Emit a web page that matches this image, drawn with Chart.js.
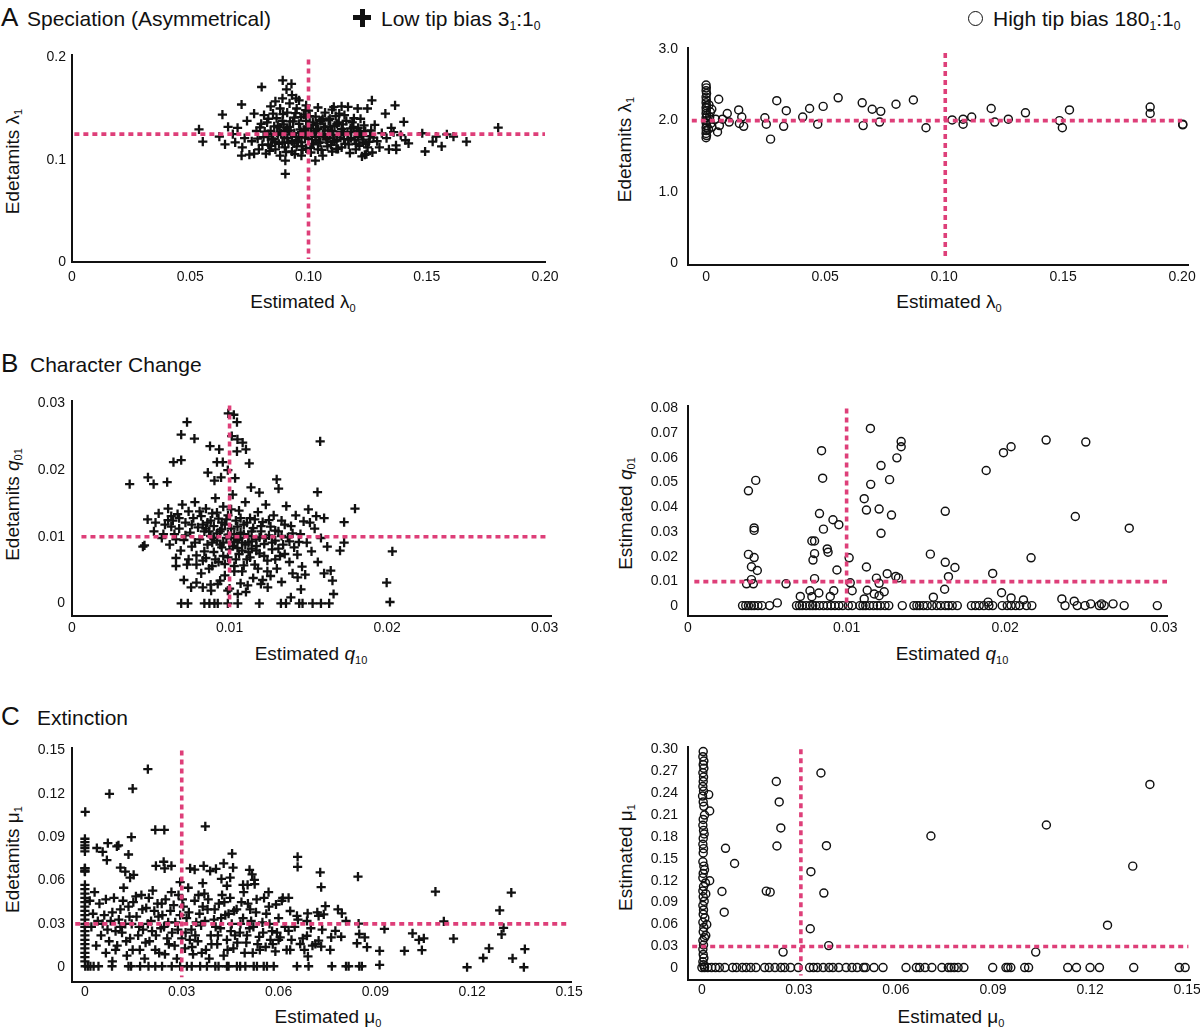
<!DOCTYPE html>
<html>
<head>
<meta charset="utf-8">
<script src="https://cdn.jsdelivr.net/npm/chart.js@4.4.0/dist/chart.umd.min.js"></script>
<style>
body{margin:0;width:1200px;height:1033px;overflow:hidden;background:#fff;position:relative;
  font-family:"Liberation Sans",Arial,sans-serif;color:#111}
canvas{position:absolute}
.t{position:absolute;white-space:nowrap;line-height:1}
.big{font-size:26px}
.hd{font-size:21px}
.ax{font-size:19px;text-align:center;width:240px}
.yt{transform:rotate(-90deg)}
sub{font-size:58%;vertical-align:-0.32em;line-height:0}
.circ{position:absolute;width:13px;height:13px;border:1.6px solid #111;border-radius:50%}
.bar{position:absolute;background:#111}
</style>
</head>
<body>
<div class="t big" style="left:1px;top:4px">A</div>
<div class="t hd" style="left:27px;top:8px">Speciation (Asymmetrical)</div>
<div class="bar" style="left:353px;top:15px;width:18px;height:5px"></div>
<div class="bar" style="left:359.5px;top:8.5px;width:5px;height:18px"></div>
<div class="t hd" style="left:381px;top:8px">Low tip bias 3<sub>1</sub>:1<sub>0</sub></div>
<div class="circ" style="left:968px;top:11px"></div>
<div class="t hd" style="left:993px;top:8px">High tip bias 180<sub>1</sub>:1<sub>0</sub></div>
<div class="t big" style="left:1px;top:350px">B</div>
<div class="t hd" style="left:30px;top:354px">Character Change</div>
<div class="t big" style="left:1px;top:703px">C</div>
<div class="t hd" style="left:37px;top:707px">Extinction</div>

<div class="t ax" style="left:183px;top:292px">Estimated λ<sub>0</sub></div>
<div class="t ax" style="left:829px;top:292px">Estimated λ<sub>0</sub></div>
<div class="t ax" style="left:191px;top:644px">Estimated <i>q</i><sub>10</sub></div>
<div class="t ax" style="left:832px;top:644px">Estimated <i>q</i><sub>10</sub></div>
<div class="t ax" style="left:208px;top:1007px">Estimated μ<sub>0</sub></div>
<div class="t ax" style="left:831px;top:1007px">Estimated μ<sub>0</sub></div>

<div class="t ax yt" style="left:-108px;top:152px">Edetamits λ<sub>1</sub></div>
<div class="t ax yt" style="left:504px;top:140px">Edetamits λ<sub>1</sub></div>
<div class="t ax yt" style="left:-108px;top:495px">Edetamits <i>q</i><sub>01</sub></div>
<div class="t ax yt" style="left:505px;top:504px">Estimated <i>q</i><sub>01</sub></div>
<div class="t ax yt" style="left:-108px;top:850px">Edetamits μ<sub>1</sub></div>
<div class="t ax yt" style="left:505px;top:848px">Estimated μ<sub>1</sub></div>

<script>
// ---- data ----
const speciationLow = [
  [0.0537,0.1297],[0.0553,0.1177],[0.0636,0.144],[0.0623,0.1226],[0.0647,0.115],[0.0717,0.1539],
  [0.0802,0.171],[0.0891,0.1774],[0.0928,0.174],[0.0907,0.1687],[0.0902,0.0861],[0.0902,0.099],
  [0.0717,0.104],[0.077,0.106],[0.0948,0.160],[0.1268,0.158],[0.1366,0.153],[0.1325,0.145],
  [0.1208,0.150],[0.1249,0.150],[0.1403,0.137],[0.1802,0.1313],[0.1668,0.1177],[0.1613,0.1226],
  [0.1563,0.1129],[0.1493,0.108],[0.1525,0.1177],[0.1481,0.1258],[0.1585,0.1248],[0.154,0.1226],
  [0.1423,0.116],[0.1371,0.1097],[0.1226,0.1032],[0.1238,0.1048],[0.1029,0.099],[0.1119,0.119],
  [0.1107,0.1516],[0.1167,0.1516],
  [0.076,0.118],[0.078,0.128],[0.079,0.110],[0.080,0.135],[0.081,0.122],[0.082,0.106],[0.083,0.140],
  [0.083,0.115],[0.084,0.128],[0.085,0.120],[0.085,0.145],[0.086,0.110],[0.087,0.133],[0.087,0.124],
  [0.088,0.150],[0.088,0.104],[0.089,0.117],[0.089,0.138],[0.090,0.128],[0.090,0.112],[0.091,0.146],
  [0.091,0.121],[0.092,0.155],[0.092,0.132],[0.093,0.108],[0.093,0.118],[0.094,0.141],[0.094,0.126],
  [0.095,0.113],[0.095,0.150],[0.096,0.122],[0.096,0.135],[0.097,0.104],[0.097,0.117],[0.098,0.144],
  [0.098,0.129],[0.099,0.111],[0.099,0.138],[0.100,0.120],[0.100,0.148],[0.101,0.126],[0.101,0.107],
  [0.102,0.134],[0.102,0.115],[0.103,0.142],[0.103,0.122],[0.104,0.110],[0.104,0.130],[0.105,0.138],
  [0.105,0.117],[0.106,0.125],[0.106,0.104],[0.107,0.146],[0.107,0.132],[0.108,0.113],[0.108,0.121],
  [0.109,0.140],[0.110,0.128],[0.110,0.108],[0.111,0.118],[0.112,0.135],[0.112,0.124],[0.113,0.145],
  [0.114,0.112],[0.114,0.130],[0.115,0.120],[0.116,0.138],[0.117,0.115],[0.118,0.127],[0.119,0.132],
  [0.120,0.110],[0.121,0.122],[0.122,0.140],[0.123,0.117],[0.124,0.128],[0.125,0.112],[0.126,0.123],
  [0.128,0.134],[0.129,0.118],[0.131,0.126],[0.133,0.121],[0.135,0.131],[0.137,0.114],[0.139,0.124],
  [0.141,0.119],[0.068,0.125],[0.070,0.131],[0.072,0.112],[0.073,0.121],[0.074,0.138],[0.075,0.105],
  [0.077,0.145],[0.066,0.132],[0.069,0.117],[0.084,0.152],[0.086,0.157],[0.089,0.160],[0.093,0.163],
  [0.096,0.158],[0.099,0.153],[0.104,0.151],[0.110,0.149],[0.114,0.152],[0.083,0.125],[0.091,0.130],
  [0.094,0.116],[0.097,0.127],[0.100,0.131],[0.103,0.119],[0.106,0.140],[0.109,0.125],[0.111,0.133],
  [0.115,0.127],[0.118,0.121],[0.121,0.131],[0.127,0.107],[0.130,0.112],[0.134,0.110],[0.136,0.127],
  [0.0785,0.1205],[0.0795,0.1315],[0.0805,0.1145],[0.0815,0.1275],[0.0825,0.1365],[0.0835,0.1085],
  [0.0845,0.1195],[0.0855,0.1325],[0.0865,0.1405],[0.0875,0.1155],[0.0885,0.1255],[0.0895,0.1345],
  [0.0905,0.1075],[0.0915,0.1165],[0.0925,0.1245],[0.0935,0.1375],[0.0945,0.1455],[0.0955,0.1185],
  [0.0965,0.1295],[0.0975,0.1095],[0.0985,0.1215],[0.0995,0.1325],[0.1005,0.1425],[0.1015,0.1155],
  [0.1025,0.1265],[0.1035,0.1355],[0.1045,0.1225],[0.1055,0.1095],[0.1065,0.1315],[0.1075,0.1195],
  [0.1085,0.1385],[0.1095,0.1145],[0.1105,0.1235],[0.1115,0.1425],[0.1125,0.1105],[0.1135,0.1215],
  [0.1145,0.1345],[0.1155,0.1155],[0.1165,0.1255],[0.1175,0.1065],[0.1185,0.1365],[0.1195,0.1195],
  [0.1205,0.1285],[0.1215,0.1135],[0.1225,0.1235],[0.1235,0.1335],[0.1245,0.1055],[0.1255,0.1175],
  [0.1265,0.1285],[0.1275,0.1215],[0.0812,0.1435],[0.0842,0.1135],[0.0868,0.1265],[0.0892,0.1445],
  [0.0918,0.1285],[0.0942,0.1055],[0.0968,0.1415],[0.0992,0.1245],[0.1018,0.1365],[0.1042,0.1165],
  [0.1068,0.1245],[0.1092,0.1325],[0.1118,0.1105],[0.1142,0.1275],[0.1168,0.1195],[0.1192,0.1405],
  [0.1218,0.1265],[0.1242,0.1155],[0.0828,0.1225],[0.0858,0.1175],[0.0878,0.1315],[0.0898,0.1215],
  [0.0922,0.1375],[0.0948,0.1225],[0.0972,0.1135],[0.0988,0.1485],[0.1008,0.1115],[0.1032,0.1285],
  [0.1058,0.1385],[0.1082,0.1285],[0.1102,0.1175],[0.1128,0.1365],[0.1152,0.1435],[0.1178,0.1305],
  [0.1202,0.1155],[0.1232,0.1195]
];
const speciationHigh = [
  [0.0000,2.50],[0.0001,2.46],[0.0000,2.42],[0.0002,2.38],[0.0000,2.33],[0.0001,2.29],[0.0000,2.25],
  [0.0002,2.21],[0.0000,2.18],[0.0001,2.14],[0.0000,2.10],[0.0003,2.07],[0.0000,2.04],[0.0001,2.00],
  [0.0000,1.97],[0.0002,1.93],[0.0000,1.90],[0.0001,1.86],[0.0000,1.82],[0.0002,1.79],[0.0000,1.76],
  [0.0012,2.22],[0.0015,2.05],[0.0020,1.96],[0.0010,1.88],[0.0018,2.12],
  [0.0024,2.16],[0.0040,2.02],[0.0024,1.91],[0.0048,1.84],[0.0053,2.30],[0.0069,2.02],[0.0056,1.93],
  [0.0089,2.10],[0.0097,1.98],[0.0137,2.15],[0.0140,1.96],[0.0150,2.05],[0.0158,1.92],[0.0247,2.04],
  [0.0253,1.95],[0.0271,1.74],[0.0297,2.28],[0.0326,1.92],[0.0337,2.14],[0.0406,2.05],[0.0435,2.17],
  [0.0469,1.95],[0.0492,2.20],[0.0555,2.32],[0.0656,2.25],[0.0660,1.93],[0.0698,2.16],[0.0729,1.98],
  [0.0734,2.13],[0.0798,2.23],[0.0871,2.29],[0.0924,1.90],[0.1034,2.01],[0.1080,2.02],[0.1080,1.95],
  [0.1116,2.05],[0.1198,2.17],[0.1213,1.98],[0.1270,2.02],[0.1342,2.11],[0.1485,2.00],[0.1497,1.90],
  [0.1527,2.15],[0.1866,2.19],[0.1866,2.10],[0.2003,1.95],[0.2003,1.94]
];
const characterLow = [
  [0.00992,0.0285],[0.01027,0.0283],[0.01047,0.0272],[0.0073,0.0272],[0.00693,0.0253],[0.00777,0.0247],
  [0.00876,0.0236],[0.00934,0.0231],[0.01014,0.0251],[0.0105,0.0246],[0.01083,0.0241],[0.01047,0.0228],
  [0.01104,0.0231],[0.01125,0.021],[0.00644,0.0212],[0.00693,0.0215],[0.0092,0.0212],[0.00957,0.0212],
  [0.01575,0.0243],[0.00366,0.0179],[0.00482,0.0189],[0.00518,0.0179],[0.00604,0.0182],[0.00862,0.0196],
  [0.00904,0.0184],[0.00946,0.0189],[0.00989,0.0200],[0.01035,0.0188],[0.01299,0.0186],[0.01311,0.0172],
  [0.01558,0.0167],[0.01796,0.0142],[0.01136,0.0174],[0.01189,0.0166],[0.01727,0.0122],[0.01701,0.0079],
  [0.01727,0.0091],[0.02033,0.0078],[0.01997,0.0031],[0.02018,0.0002],[0.0166,0.0014],[0.01653,0.0034],
  [0.0160,0.0045],[0.01642,0.0049],[0.01453,0.0021],[0.01389,0.0009],[0.01432,0.0039],[0.01052,0.0014],
  [0.01104,0.0017],[0.01115,0.0027],[0.00883,0.0019],[0.00925,0.0029],[0.00756,0.0024],[0.00989,0.0019],
  [0.01199,0.0029],[0.01242,0.0024],
  [0.00693,0],[0.00735,0],[0.0084,0],[0.00872,0],[0.00904,0],[0.00925,0],[0.00989,0],[0.01052,0],
  [0.01189,0],[0.01326,0],[0.01358,0],[0.01442,0],[0.01463,0],[0.01527,0],[0.0158,0],[0.01632,0],
  [0.0048,0.0126],[0.0052,0.0108],[0.0055,0.0135],[0.0057,0.0098],[0.0059,0.0118],[0.0061,0.0142],
  [0.0062,0.0088],[0.0064,0.0124],[0.0065,0.0104],[0.0066,0.0068],[0.0067,0.0134],[0.0068,0.0112],
  [0.0069,0.0079],[0.0070,0.0148],[0.0071,0.0095],[0.0072,0.0121],[0.0073,0.0058],[0.0074,0.0138],
  [0.0075,0.0106],[0.0076,0.0085],[0.0077,0.0128],[0.0078,0.0152],[0.0079,0.0072],[0.0080,0.0114],
  [0.0081,0.0096],[0.0082,0.0045],[0.0082,0.0131],[0.0083,0.0064],[0.0084,0.0108],[0.0085,0.0142],
  [0.0086,0.0088],[0.0086,0.0121],[0.0087,0.0052],[0.0088,0.0101],[0.0089,0.0135],[0.0090,0.0077],
  [0.0090,0.0116],[0.0091,0.0158],[0.0092,0.0094],[0.0093,0.0062],[0.0093,0.0127],[0.0094,0.0108],
  [0.0095,0.0084],[0.0096,0.0145],[0.0097,0.0118],[0.0097,0.0042],[0.0098,0.0098],[0.0099,0.0069],
  [0.0099,0.0132],[0.0101,0.0112],[0.0102,0.0086],[0.0102,0.0163],[0.0103,0.0056],[0.0104,0.0124],
  [0.0105,0.0095],[0.0106,0.0074],[0.0106,0.0139],[0.0107,0.0106],[0.0108,0.0048],[0.0109,0.0118],
  [0.0110,0.0088],[0.0110,0.0152],[0.0111,0.0066],[0.0112,0.0101],[0.0113,0.0128],[0.0114,0.0082],
  [0.0115,0.0113],[0.0116,0.0058],[0.0117,0.0096],[0.0118,0.0137],[0.0119,0.0075],[0.0120,0.0108],
  [0.0121,0.0122],[0.0122,0.0089],[0.0123,0.0148],[0.0124,0.0064],[0.0125,0.0102],[0.0126,0.0115],
  [0.0127,0.0081],[0.0128,0.0132],[0.0129,0.0094],[0.0130,0.0052],[0.0131,0.0108],[0.0132,0.0071],
  [0.0133,0.0124],[0.0134,0.0088],[0.0136,0.0146],[0.0137,0.0099],[0.0138,0.0062],[0.0139,0.0116],
  [0.0141,0.0084],[0.0142,0.0132],[0.0143,0.0073],[0.0145,0.0104],[0.0146,0.0055],[0.0147,0.0123],
  [0.0149,0.0091],[0.0150,0.0141],[0.0152,0.0078],[0.0154,0.0112],[0.0156,0.0062],[0.0158,0.0098],
  [0.0160,0.0128],[0.0162,0.0085],
  [0.0045,0.0085],[0.0046,0.0087],[0.0053,0.0121],[0.0063,0.0131],[0.0066,0.0056],[0.0071,0.0035],
  [0.0079,0.0031],[0.0083,0.0024],[0.0088,0.0028],[0.0094,0.0034],[0.0100,0.0022],[0.0107,0.0030],
  [0.0115,0.0038],[0.0121,0.0035],[0.0126,0.0041],[0.0133,0.0032],[0.0140,0.0045],[0.0148,0.0043],
  [0.0085,0.0112],[0.0092,0.0105],[0.0096,0.0091],[0.0101,0.0098],[0.0105,0.0083],[0.0108,0.0091],
  [0.0112,0.0077],[0.0089,0.0091],[0.0095,0.0121],[0.0103,0.0104],[0.0114,0.0093],[0.0117,0.0086],
  [0.0063,0.0115],[0.0068,0.0128],[0.0072,0.0102],[0.0076,0.0118],[0.0078,0.0091],[0.0081,0.0138],
  [0.0083,0.0118],[0.0084,0.0078],[0.0087,0.0108],[0.0088,0.0124],[0.0090,0.0098],[0.0091,0.0066],
  [0.0092,0.0136],[0.0094,0.0088],[0.0095,0.0111],[0.0096,0.0071],[0.0098,0.0126],[0.0099,0.0103],
  [0.0100,0.0081],[0.0101,0.0141],[0.0103,0.0092],[0.0104,0.0066],[0.0105,0.0115],[0.0106,0.0098],
  [0.0107,0.0128],[0.0108,0.0079],[0.0109,0.0104],[0.0111,0.0121],[0.0112,0.0091],[0.0113,0.0069],
  [0.0114,0.0108],[0.0116,0.0126],[0.0117,0.0079],[0.0119,0.0099],[0.0120,0.0116],[0.0122,0.0071],
  [0.0123,0.0098],[0.0125,0.0125],[0.0127,0.0091],[0.0129,0.0109],[0.0131,0.0082],[0.0133,0.0101],
  [0.0135,0.0118],[0.0138,0.0093],[0.0140,0.0105],[0.0074,0.0066],[0.0079,0.0058],[0.0085,0.0068],
  [0.0089,0.0056],[0.0097,0.0059],[0.0103,0.0048],[0.0109,0.0057],[0.0118,0.0052],[0.0124,0.0048],
  [0.0129,0.0066],[0.0135,0.0074],[0.0144,0.0092],[0.0151,0.0121],[0.0155,0.0131],[0.0058,0.0104],
  [0.0061,0.0125],[0.0066,0.0096]
];
const characterHigh = [
  [0.00381,0.0467],[0.00427,0.0509],[0.00417,0.0317],[0.00417,0.0307],[0.00381,0.0210],[0.00417,0.0197],
  [0.0040,0.0160],[0.00437,0.0145],[0.0040,0.0108],[0.00369,0.0091],[0.00412,0.0091],[0.00618,0.0091],
  [0.00563,0.0014],[0.00708,0.0040],[0.00769,0.0063],[0.00781,0.0039],[0.00825,0.0054],[0.00897,0.0040],
  [0.00919,0.0063],[0.00842,0.0629],[0.00849,0.0518],[0.00829,0.0375],[0.00854,0.0312],[0.00914,0.0350],
  [0.00951,0.0330],[0.00781,0.0264],[0.00798,0.0264],[0.00878,0.0232],[0.00883,0.0219],[0.00798,0.0213],
  [0.00788,0.0187],[0.00939,0.0147],[0.00798,0.0112],[0.01016,0.0196],[0.01023,0.0095],[0.01035,0.0063],
  [0.0115,0.0719],[0.01217,0.0569],[0.01152,0.0493],[0.01111,0.0435],[0.01125,0.0389],[0.01205,0.0393],
  [0.01217,0.0295],[0.01271,0.0512],[0.01283,0.0369],[0.01317,0.0600],[0.01344,0.0645],[0.01344,0.0666],
  [0.01125,0.0159],[0.01188,0.0114],[0.01256,0.0132],[0.01310,0.0121],[0.01327,0.0115],[0.01205,0.0093],
  [0.0113,0.0065],[0.01174,0.0050],[0.01205,0.0043],[0.01237,0.0059],[0.01111,0.0030],[0.01528,0.0211],
  [0.01622,0.0384],[0.01622,0.0178],[0.01683,0.0157],[0.01642,0.0120],[0.01618,0.0069],[0.01547,0.0037],
  [0.0188,0.0549],[0.01989,0.0621],[0.02037,0.0645],[0.02258,0.0672],[0.02508,0.0664],[0.02442,0.0363],
  [0.02782,0.0316],[0.02163,0.0196],[0.01921,0.0133],[0.01977,0.0055],[0.02037,0.0034],[0.02115,0.0026],
  [0.02357,0.0030],[0.02435,0.0021],[0.01892,0.0017],[0.02680,0.0010],[0.02607,0.0010],[0.02539,0.0010],
  [0.00344,0.0003],[0.00364,0.0003],[0.00381,0.0003],[0.0040,0.0003],[0.00417,0.0003],[0.00441,0.0003],
  [0.00466,0.0003],[0.00514,0.0003],[0.00684,0.0003],[0.00703,0.0003],[0.0072,0.0003],[0.00745,0.0003],
  [0.00769,0.0003],[0.00786,0.0003],[0.00805,0.0003],[0.00829,0.0003],[0.00854,0.0003],[0.00878,0.0003],
  [0.00902,0.0003],[0.00926,0.0003],[0.00951,0.0003],[0.00975,0.0003],[0.01011,0.0003],[0.01035,0.0003],
  [0.01084,0.0003],[0.01103,0.0003],[0.0112,0.0003],[0.01145,0.0003],[0.01169,0.0003],[0.01193,0.0003],
  [0.01213,0.0003],[0.01242,0.0003],[0.01266,0.0003],[0.01351,0.0003],[0.01424,0.0003],[0.01443,0.0003],
  [0.0146,0.0003],[0.01484,0.0003],[0.01508,0.0003],[0.01538,0.0003],[0.01569,0.0003],[0.01593,0.0003],
  [0.01622,0.0003],[0.01642,0.0003],[0.01666,0.0003],[0.01698,0.0003],[0.01787,0.0003],[0.01812,0.0003],
  [0.01836,0.0003],[0.01865,0.0003],[0.01897,0.0003],[0.01921,0.0003],[0.01981,0.0003],[0.02013,0.0003],
  [0.02037,0.0003],[0.02066,0.0003],[0.02091,0.0003],[0.02134,0.0003],[0.02168,0.0003],[0.02377,0.0003],
  [0.02454,0.0003],[0.02503,0.0003],[0.02593,0.0003],[0.02624,0.0003],[0.0275,0.0003],[0.02959,0.0003]
];
const extinctionLow = [
  [0.0195,0.137],[0.0076,0.120],[0.0148,0.1236],[0.0001,0.1075],[0.0218,0.095],[0.0246,0.095],[0.0373,0.0975],
  [0.0000,0.0889],[0.0000,0.0866],[0.0000,0.0843],[0.0000,0.0825],[0.0000,0.0802],[0.0000,0.0684],[0.0000,0.0661],
  [0.0071,0.0859],[0.0099,0.0836],[0.0104,0.0843],[0.0037,0.0825],[0.0055,0.0798],[0.0068,0.0741],[0.0144,0.090],
  [0.0135,0.078],[0.0110,0.0689],[0.0125,0.0661],[0.0151,0.0639],[0.0140,0.062],[0.0220,0.0702],[0.0244,0.073],
  [0.0268,0.0702],[0.0247,0.0684],[0.0326,0.0684],[0.0340,0.0675],[0.0368,0.0702],[0.0388,0.0666],[0.0406,0.068],
  [0.0430,0.0718],[0.0456,0.0786],[0.0459,0.0689],[0.0423,0.0611],[0.0450,0.062],[0.0440,0.0564],[0.0365,0.0582],
  [0.0295,0.0589],[0.0510,0.0673],[0.0518,0.0643],[0.0525,0.0605],[0.0490,0.057],[0.0504,0.057],[0.0526,0.0575],
  [0.0659,0.0764],[0.0659,0.0695],[0.0729,0.0657],[0.0732,0.0555],[0.0846,0.0627],[0.0569,0.052],[0.0592,0.0434],
  [0.0613,0.048],[0.0631,0.048],[0.0636,0.0389],[0.0657,0.0355],[0.0690,0.0373],[0.0688,0.032],[0.0724,0.0355],
  [0.0745,0.0423],[0.0740,0.0366],[0.0784,0.040],[0.0796,0.0373],[0.0809,0.032],[0.0848,0.0302],[0.0850,0.023],
  [0.0867,0.0207],[0.0843,0.0166],[0.0874,0.0139],[0.0776,0.0252],[0.0763,0.0207],[0.0794,0.0211],[0.0724,0.0184],
  [0.0732,0.0143],[0.0714,0.0161],[0.0688,0.0218],[0.0691,0.0075],[0.0667,0.0161],[0.0636,0.012],[0.0600,0.0189],
  [0.0631,0.0252],[0.0605,0.0207],
  [0.0928,0.0266],[0.0913,0.0114],[0.0913,0.0016],[0.0990,0.0114],[0.1015,0.0234],[0.1035,0.0189],[0.1050,0.020],
  [0.1044,0.0118],[0.1086,0.0523],[0.1112,0.0318],[0.1142,0.0198],[0.1184,0.0],[0.1234,0.0064],[0.1252,0.013],
  [0.1285,0.0393],[0.1297,0.0273],[0.1291,0.0227],[0.1321,0.0516],[0.1325,0.0061],[0.1363,0.0125],[0.1360,0.0],
  [0.0001,0.0007],[0.0009,0.0007],[0.0017,0.0007],[0.0027,0.0007],[0.0042,0.0007],[0.0084,0.0007],[0.0135,0.0007],
  [0.0143,0.0007],[0.0171,0.0007],[0.0197,0.0007],[0.0218,0.0007],[0.0239,0.0007],[0.0269,0.0007],[0.0295,0.0007],
  [0.0316,0.0007],[0.0331,0.0007],[0.0357,0.0007],[0.0378,0.0007],[0.0404,0.0007],[0.0414,0.0007],[0.0440,0.0007],
  [0.0445,0.0007],[0.0471,0.0007],[0.0481,0.0007],[0.0497,0.0007],[0.0523,0.0007],[0.0533,0.0007],[0.0554,0.0007],
  [0.0564,0.0007],[0.0585,0.0007],[0.0657,0.0007],[0.0693,0.0007],[0.0765,0.0007],[0.0809,0.0007],[0.0817,0.0007],
  [0.0850,0.0007],[0.0858,0.0007],
  [0.0000,0.057],[0.0000,0.054],[0.0000,0.051],[0.0000,0.048],[0.0000,0.045],[0.0000,0.042],[0.0000,0.039],
  [0.0000,0.036],[0.0000,0.033],[0.0000,0.030],[0.0000,0.028],[0.0000,0.025],[0.0000,0.022],[0.0000,0.019],
  [0.0000,0.016],[0.0000,0.013],[0.0000,0.010],[0.0000,0.007],[0.0000,0.004],[0.0000,0.0665],[0.0000,0.0685],
  [0.0030,0.052],[0.0045,0.044],[0.0060,0.036],[0.0020,0.028],[0.0050,0.022],[0.0035,0.015],[0.0065,0.010],
  [0.0080,0.032],[0.0090,0.048],[0.0095,0.025],[0.0100,0.015],[0.0110,0.040],[0.0120,0.055],[0.0125,0.030],
  [0.0130,0.008],[0.0140,0.020],[0.0150,0.045],[0.0160,0.035],[0.0170,0.012],[0.0175,0.050],[0.0180,0.026],
  [0.0190,0.041],[0.0200,0.018],[0.0205,0.032],[0.0210,0.053],[0.0220,0.022],[0.0225,0.044],[0.0230,0.010],
  [0.0240,0.036],[0.0245,0.028],[0.0250,0.047],[0.0260,0.016],[0.0265,0.039],[0.0270,0.024],[0.0280,0.031],
  [0.0285,0.006],[0.0290,0.050],[0.0300,0.020],[0.0305,0.042],[0.0310,0.013],[0.0315,0.034],[0.0320,0.055],
  [0.0330,0.026],[0.0335,0.009],[0.0340,0.046],[0.0350,0.018],[0.0355,0.037],[0.0360,0.029],[0.0370,0.051],
  [0.0375,0.012],[0.0380,0.040],[0.0390,0.022],[0.0400,0.033],[0.0410,0.016],[0.0415,0.044],[0.0420,0.027],
  [0.0430,0.008],[0.0435,0.036],[0.0440,0.019],[0.0450,0.048],[0.0455,0.030],[0.0460,0.013],[0.0470,0.040],
  [0.0480,0.024],[0.0490,0.034],[0.0500,0.017],[0.0505,0.044],[0.0510,0.027],[0.0520,0.010],[0.0530,0.038],
  [0.0540,0.021],[0.0550,0.031],[0.0560,0.014],[0.0570,0.042],[0.0580,0.025],[0.0590,0.011],[0.0600,0.034],
  [0.0610,0.046],[0.0620,0.028],[0.0640,0.019],[0.0660,0.033],[0.0680,0.012],[0.0700,0.027],[0.0720,0.038],
  [0.0025,0.037],[0.0055,0.030],[0.0075,0.018],[0.0085,0.004],[0.0105,0.033],[0.0115,0.024],[0.0135,0.042],
  [0.0145,0.030],[0.0165,0.022],[0.0185,0.006],[0.0195,0.030],[0.0215,0.039],[0.0235,0.027],[0.0255,0.020],
  [0.0275,0.043],[0.0295,0.036],[0.0325,0.019],[0.0345,0.031],[0.0365,0.042],[0.0385,0.006],[0.0405,0.028],
  [0.0425,0.050],[0.0445,0.037],[0.0465,0.022],[0.0485,0.045],[0.0495,0.010],[0.0515,0.032],[0.0535,0.016],
  [0.0555,0.048],[0.0575,0.019],
  [0.0015,0.046],[0.0040,0.032],[0.0065,0.047],[0.0070,0.026],[0.0085,0.038],[0.0095,0.012],[0.0110,0.028],
  [0.0118,0.046],[0.0128,0.018],[0.0138,0.035],[0.0148,0.012],[0.0158,0.049],[0.0168,0.028],[0.0178,0.040],
  [0.0188,0.017],[0.0198,0.048],[0.0208,0.025],[0.0218,0.012],[0.0228,0.035],[0.0238,0.044],[0.0248,0.009],
  [0.0258,0.031],[0.0268,0.052],[0.0278,0.015],[0.0288,0.026],[0.0302,0.047],[0.0312,0.024],[0.0322,0.038],
  [0.0332,0.014],[0.0342,0.022],[0.0352,0.050],[0.0362,0.010],[0.0372,0.032],[0.0382,0.047],[0.0392,0.016],
  [0.0402,0.040],[0.0412,0.022],[0.0422,0.034],[0.0432,0.045],[0.0442,0.012],[0.0452,0.025],[0.0462,0.039],
  [0.0472,0.017],[0.0482,0.030],[0.0492,0.052],[0.0502,0.022],[0.0512,0.040],[0.0522,0.028],[0.0532,0.047],
  [0.0542,0.012],[0.0552,0.024],[0.0562,0.037],[0.0572,0.030],[0.0582,0.016],[0.0595,0.024],[0.0625,0.012],
  [0.0650,0.028],[0.0675,0.020],[0.0705,0.015],[0.0735,0.026],[0.0760,0.012]
];
const extinctionHigh = [
  [0.0004,0.297],[0.0003,0.290],[0.0006,0.284],[0.0004,0.279],[0.0006,0.274],[0.0003,0.268],[0.0005,0.262],
  [0.0004,0.256],[0.0003,0.249],[0.0005,0.243],[0.0002,0.236],[0.0004,0.228],[0.0006,0.222],[0.0008,0.210],
  [0.0004,0.204],[0.0003,0.196],[0.0005,0.189],[0.0007,0.184],[0.0004,0.178],[0.0003,0.170],[0.0005,0.164],
  [0.0004,0.158],[0.0003,0.146],[0.0006,0.140],[0.0008,0.135],[0.0004,0.130],[0.0003,0.124],[0.0011,0.117],
  [0.0005,0.112],[0.0003,0.106],[0.0004,0.098],[0.0007,0.092],[0.0003,0.086],[0.0005,0.080],[0.0004,0.074],
  [0.0009,0.069],[0.0003,0.063],[0.0006,0.056],[0.0004,0.050],[0.0012,0.045],[0.0003,0.038],[0.0005,0.032],
  [0.0003,0.026],[0.0004,0.019],[0.0006,0.014],[0.0003,0.009],[0.0005,0.005],[0.0008,0.002],
  [0.0021,0.238],[0.0024,0.2156],[0.0024,0.120],[0.0015,0.060],[0.0012,0.102],[0.0008,0.042],[0.0073,0.1644],
  [0.0101,0.1436],[0.0062,0.1053],[0.0069,0.0769],[0.0199,0.1058],[0.0211,0.1044],[0.0230,0.256],[0.0239,0.228],
  [0.0244,0.1924],[0.0232,0.1676],[0.0251,0.0222],[0.0368,0.2676],[0.0385,0.168],[0.0337,0.1324],[0.0377,0.1031],
  [0.0335,0.0542],[0.0392,0.0311],[0.0708,0.1813],[0.1065,0.1964],[0.1032,0.0222],[0.1332,0.140],[0.1385,0.252],
  [0.1254,0.0591],
  [0.0000,0.001],[0.0008,0.001],[0.0018,0.001],[0.0030,0.001],[0.0042,0.001],[0.0054,0.001],[0.0071,0.001],
  [0.0095,0.001],[0.0107,0.001],[0.0125,0.001],[0.0137,0.001],[0.0151,0.001],[0.0167,0.001],[0.0194,0.001],
  [0.0208,0.001],[0.0226,0.001],[0.0244,0.001],[0.0256,0.001],[0.0274,0.001],[0.0298,0.001],[0.0333,0.001],
  [0.0345,0.001],[0.0357,0.001],[0.0375,0.001],[0.0393,0.001],[0.0405,0.001],[0.0423,0.001],[0.0446,0.001],
  [0.0464,0.001],[0.0480,0.001],[0.0500,0.001],[0.0506,0.001],[0.0532,0.001],[0.0560,0.001],[0.0631,0.001],
  [0.0663,0.001],[0.0673,0.001],[0.0690,0.001],[0.0711,0.001],[0.0742,0.001],[0.0762,0.001],[0.0770,0.001],
  [0.0780,0.001],[0.0792,0.001],[0.0810,0.001],[0.0899,0.001],[0.0940,0.001],[0.0946,0.001],[0.0955,0.001],
  [0.0998,0.001],[0.1010,0.001],[0.1131,0.001],[0.1158,0.001],[0.1200,0.001],[0.1229,0.001],[0.1335,0.001],
  [0.1476,0.001],[0.1494,0.001]
];

// true parameter values (dashed guide lines), as [start, end] points
const speciationLowGuides = [[[0.001,0.125],[0.2,0.125]], [[0.1,0.198],[0.1,0.003]]];
const speciationHighGuides = [[[-0.006,2.0],[0.2,2.0]], [[0.1005,2.95],[0.1005,0.08]]];
const characterLowGuides = [[[0.0006,0.01],[0.0303,0.01]], [[0.01,0.0297],[0.01,-0.0006]]];
const characterHighGuides = [[[0.0004,0.01],[0.0302,0.01]], [[0.01,0.080],[0.01,-0.0003]]];
const extinctionLowGuides = [[[-0.003,0.03],[0.1497,0.03]], [[0.03,0.150],[0.03,-0.007]]];
const extinctionHighGuides = [[[-0.003,0.03],[0.1504,0.03]], [[0.0306,0.300],[0.0306,-0.010]]];

// tick values and labels
const lambdaXTicks = [0, 0.05, 0.1, 0.15, 0.2];
const lambdaXLabels = ['0', '0.05', '0.10', '0.15', '0.20'];
const lambdaLowYTicks = [0, 0.1, 0.2];
const lambdaLowYLabels = ['0', '0.1', '0.2'];
const lambdaHighYTicks = [0, 1, 2, 3];
const lambdaHighYLabels = ['0', '1.0', '2.0', '3.0'];
const qTicks = [0, 0.01, 0.02, 0.03];
const qLabels = ['0', '0.01', '0.02', '0.03'];
const qHighYTicks = [0, 0.01, 0.02, 0.03, 0.04, 0.05, 0.06, 0.07, 0.08];
const qHighYLabels = ['0', '0.01', '0.02', '0.03', '0.04', '0.05', '0.06', '0.07', '0.08'];
const muTicks = [0, 0.03, 0.06, 0.09, 0.12, 0.15];
const muLabels = ['0', '0.03', '0.06', '0.09', '0.12', '0.15'];
const muHighYTicks = [0, 0.03, 0.06, 0.09, 0.12, 0.15, 0.18, 0.21, 0.24, 0.27, 0.30];
const muHighYLabels = ['0', '0.03', '0.06', '0.09', '0.12', '0.15', '0.18', '0.21', '0.24', '0.27', '0.30'];

const PINK = '#DE3F79';
const INK = '#111';

function makePanel(p) {
  // p.area = plot area in page pixels; canvas wraps it
  const yw = 52, xh = 34, padT = 12, padR = 22;
  const c = document.createElement('canvas');
  const left = p.area.l - yw, top = p.area.t - padT;
  const w = p.area.r + padR - left, h = p.area.b + xh - top;
  c.width = w; c.height = h;
  c.style.left = left + 'px'; c.style.top = top + 'px';
  document.body.appendChild(c);

  const low = p.marker === 'cross';
  const datasets = [{
    data: p.points.map(d => ({x: d[0], y: d[1]})),
    pointStyle: low ? 'cross' : 'circle',
    pointRadius: low ? 4.6 : 4,
    pointBorderWidth: low ? 2.3 : 1.45,
    pointBorderColor: INK,
    pointBackgroundColor: 'rgba(0,0,0,0)',
    showLine: false,
    order: 2,
    clip: false
  }];
  p.guides.forEach(g => datasets.push({
    data: g.map(d => ({x: d[0], y: d[1]})),
    showLine: true,
    borderColor: PINK,
    borderWidth: 3.6,
    borderDash: [5, 4],
    pointRadius: 0,
    order: 1,
    clip: false
  }));

  const tickFont = {family: '"Liberation Sans", Arial, sans-serif', size: 14};
  new Chart(c, {
    type: 'scatter',
    data: {datasets},
    options: {
      responsive: false,
      animation: false,
      events: [],
      layout: {padding: {top: padT, right: padR, left: 0, bottom: 0}},
      plugins: {legend: {display: false}, tooltip: {enabled: false}},
      scales: {
        x: {
          type: 'linear', min: p.x.min, max: p.x.max,
          grid: {display: false, drawTicks: false},
          border: {display: true, color: INK, width: 2},
          afterBuildTicks: s => { s.ticks = p.x.ticks.map(v => ({value: v})); },
          afterFit: s => { s.height = xh; },
          ticks: {color: INK, font: tickFont, padding: p.x.pad, maxRotation: 0, autoSkip: false,
                  callback: (v, i) => p.x.labels[i]}
        },
        y: {
          type: 'linear', min: p.y.min, max: p.y.max,
          grid: {display: false, drawTicks: false},
          border: {display: true, color: INK, width: 2},
          afterBuildTicks: s => { s.ticks = p.y.ticks.map(v => ({value: v})); },
          afterFit: s => { s.width = yw; },
          ticks: {color: INK, font: tickFont, padding: p.y.pad, autoSkip: false,
                  callback: (v, i) => p.y.labels[i]}
        }
      }
    }
  });
}

makePanel({area: {l: 72, r: 545, t: 53, b: 262}, marker: 'cross', points: speciationLow, guides: speciationLowGuides,
  x: {min: 0, max: 0.2, ticks: lambdaXTicks, labels: lambdaXLabels, pad: 7},
  y: {min: 0, max: 0.2019, ticks: lambdaLowYTicks, labels: lambdaLowYLabels, pad: 6}});
makePanel({area: {l: 688, r: 1188, t: 42, b: 265}, marker: 'circle', points: speciationHigh, guides: speciationHighGuides,
  x: {min: -0.0076, max: 0.2025, ticks: lambdaXTicks, labels: lambdaXLabels, pad: 4},
  y: {min: -0.027, max: 3.014, ticks: lambdaHighYTicks, labels: lambdaHighYLabels, pad: 10}});
makePanel({area: {l: 72, r: 551, t: 398, b: 616}, marker: 'cross', points: characterLow, guides: characterLowGuides,
  x: {min: 0, max: 0.0304, ticks: qTicks, labels: qLabels, pad: 4},
  y: {min: -0.0019, max: 0.0303, ticks: qTicks, labels: qLabels, pad: 7}});
makePanel({area: {l: 688, r: 1167, t: 400, b: 616}, marker: 'circle', points: characterHigh, guides: characterHighGuides,
  x: {min: 0, max: 0.0302, ticks: qTicks, labels: qLabels, pad: 4},
  y: {min: -0.0039, max: 0.0808, ticks: qHighYTicks, labels: qHighYLabels, pad: 10}});
makePanel({area: {l: 72, r: 571, t: 745, b: 982}, marker: 'cross', points: extinctionLow, guides: extinctionLowGuides,
  x: {min: -0.004, max: 0.1506, ticks: muTicks, labels: muLabels, pad: 2},
  y: {min: -0.0102, max: 0.1514, ticks: muTicks, labels: muLabels, pad: 7}});
makePanel({area: {l: 688, r: 1190, t: 741, b: 980}, marker: 'circle', points: extinctionHigh, guides: extinctionHighGuides,
  x: {min: -0.0043, max: 0.1509, ticks: muTicks, labels: muLabels, pad: 2},
  y: {min: -0.016, max: 0.3027, ticks: muHighYTicks, labels: muHighYLabels, pad: 10}});
</script>
</body>
</html>
